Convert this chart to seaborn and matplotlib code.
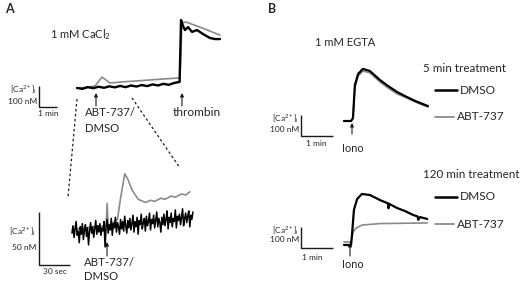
import numpy as np
import pandas as pd
import matplotlib
matplotlib.use('Agg')
import matplotlib.pyplot as plt
import seaborn as sns

# ---- data (time, [Ca2+]i in nM) ----
# A, top: 1 mM CaCl2, time in min
a_black_t = [0, 0.3, 0.6, 0.9, 1.2, 1.5, 1.8, 2.1, 2.4, 2.7, 3.0, 3.3, 3.6, 3.9, 4.2, 4.5, 4.8, 5.1, 5.4, 5.7,
             5.78, 5.89, 6.0, 6.17, 6.39, 6.67, 7.0, 7.39, 7.67, 7.94]
a_black_ca = [100, 96, 104, 99, 106, 101, 108, 103, 110, 104, 112, 107, 114, 109, 117, 112, 120, 115, 124, 129,
              424, 395, 376, 390, 367, 376, 357, 338, 333, 333]
a_grey_t = [0, 0.5, 1.0, 1.39, 1.83, 2.5, 3.2, 4.0, 4.8, 5.72, 5.83, 6.05, 6.67, 7.1, 7.5, 7.94]
a_grey_ca = [100, 103, 110, 152, 124, 129, 133, 138, 143, 148, 410, 414, 395, 381, 367, 352]

# A, inset: zoom around ABT-737 / DMSO addition, 1 s samples
inset_black = [97, 104, 93, 101, 108, 95, 99, 88, 103, 96, 106, 91, 100, 105, 94, 102, 86, 99, 107, 97,
               103, 93, 101, 109, 96, 104, 98, 106, 95, 102,
               99, 108, 84, 103, 110, 97, 105, 100, 111, 95, 106, 102, 112, 98, 107, 103, 96, 110, 101, 108,
               99, 113, 104, 97, 109, 102, 111, 100, 106, 114,
               98, 108, 103, 112, 96, 109, 105, 115, 101, 107, 111, 99, 113, 104, 108, 116, 100, 110, 106, 114,
               102, 109, 117, 103, 111, 107, 98, 112, 105, 115,
               104, 110, 118, 101, 112, 107, 116, 103, 111, 108, 119, 102, 113, 109, 115, 105, 112, 120, 104, 111,
               116, 107, 113, 118, 103, 114, 110, 117]
inset_t = np.arange(len(inset_black))
inset_grey_t = [0, 20, 33, 34, 35, 44, 47, 51, 54, 58, 64, 71, 76, 80, 86, 90, 96, 100, 106, 110, 114]
inset_grey = [100, 103, 104, 125, 104, 110, 130, 153, 148, 138, 129, 126, 128, 127, 130, 129, 132, 131, 134, 133, 136]

# B, 1 mM EGTA, time in min (Iono at ~0.25 min)
b5_t = [0, 0.22, 0.28, 0.34, 0.44, 0.59, 0.81, 1.125, 1.375, 1.66, 1.9, 2.16, 2.375, 2.625]
b5_dmso = [100, 100, 114, 271, 324, 348, 338, 295, 267, 238, 219, 200, 186, 171]
b5_abt = [100, 100, 112, 257, 314, 338, 329, 286, 257, 229, 214, 195, 181, 167]

b120_t = [0, 0.22, 0.25, 0.31, 0.41, 0.56, 0.81, 1.125, 1.375, 1.39, 1.41, 1.66, 1.9, 2.16, 2.3, 2.32, 2.375, 2.6]
b120_dmso = [100, 100, 148, 267, 319, 343, 338, 314, 298, 275, 296, 276, 262, 243, 236, 220, 233, 224]
b120_abt_t = [0, 0.22, 0.28, 0.38, 0.56, 1.125, 2.6]
b120_abt = [114, 114, 162, 181, 195, 202, 205]

BLACK = '#000000'
GREY = '#8a8a8a'

sns.set_theme(style='white')
plt.rcParams['font.family'] = ['Lato', 'DejaVu Sans']
plt.rcParams['mathtext.fontset'] = 'custom'
plt.rcParams['mathtext.rm'] = 'Lato'
plt.rcParams['mathtext.it'] = 'Lato:italic'

W, H = 520, 283
fig = plt.figure(figsize=(5.2, 2.83), dpi=100)

# overlay axes in pixel coordinates for labels / arrows
ov = fig.add_axes([0, 0, 1, 1])
ov.set_xlim(0, W)
ov.set_ylim(H, 0)
ov.axis('off')


def trace_ax(box, x0, y0, sx, sy, base):
    left, top, right, bottom = box
    ax = fig.add_axes([left / W, 1 - bottom / H, (right - left) / W, (bottom - top) / H])
    ax.set_xlim((left - x0) / sx, (right - x0) / sx)
    ax.set_ylim(base + (y0 - bottom) / sy, base + (y0 - top) / sy)
    ax.axis('off')
    return ax


def scalebar(ax, t, c, dt, dc):
    ax.plot([t, t, t + dt], [c + dc, c, c], color='k', lw=1.0, clip_on=False,
            solid_capstyle='butt', solid_joinstyle='miter')


def arrow(x, y0, y1):
    ov.annotate('', xy=(x, y1), xytext=(x, y0),
                arrowprops=dict(arrowstyle='-|>', lw=0.8, color='k', mutation_scale=5,
                                shrinkA=0, shrinkB=0))


def line(ax, t, v, color, lw):
    sns.lineplot(x=t, y=v, ax=ax, color=color, lw=lw, sort=False, estimator=None)


CA = '[Ca$^{2+}$]$_\\mathregular{i}$'

# ---- panel A top ----
axA = trace_ax((60, 10, 225, 110), 77, 88, 18, 0.21, 100)
line(axA, a_grey_t, a_grey_ca, GREY, 1.2)
line(axA, a_black_t, a_black_ca, BLACK, 1.7)
scalebar(axA, -2.11, 9.5, 1, 100)

# ---- panel A inset ----
axI = trace_ax((60, 160, 200, 270), 72, 230, 31 / 30, 1.06, 100)
line(axI, inset_grey_t, inset_grey, GREY, 1.2)
line(axI, inset_t, inset_black, BLACK, 1.1)
scalebar(axI, -32, 67, 30, 50)

# ---- panel B top / bottom ----
axB1 = trace_ax((330, 60, 440, 140), 344, 121, 32, 0.21, 100)
line(axB1, b5_t, b5_abt, GREY, 1.2)
line(axB1, b5_t, b5_dmso, BLACK, 1.6)
scalebar(axB1, -1.34, 28.6, 1, 100)

axB2 = trace_ax((330, 185, 440, 255), 344, 245, 32, 0.21, 100)
line(axB2, b120_abt_t, b120_abt, GREY, 1.2)
line(axB2, b120_t, b120_dmso, BLACK, 1.6)
scalebar(axB2, -1.34, 85.7, 1, 100)

# ---- text / annotations ----
ov.text(5, 9, 'A', fontsize=9, fontweight='bold', va='center')
ov.text(268, 9, 'B', fontsize=9, fontweight='bold', va='center')
ov.text(50, 35, '1 mM CaCl$_2$', fontsize=8, va='center')

small = 6
ov.text(37, 90, CA, fontsize=small, ha='right', va='center')
ov.text(37, 101, '100 nM', fontsize=small, ha='right', va='center')
ov.text(48, 114, '1 min', fontsize=small, ha='center', va='center')
arrow(96, 106, 93)
arrow(182, 106, 93)
ov.text(85, 112, 'ABT-737/', fontsize=8.2, va='center')
ov.text(85, 128, 'DMSO', fontsize=8.2, va='center')
ov.text(197, 112, 'thrombin', fontsize=8.6, ha='center', va='center')

ov.plot([77, 68], [99, 197], color='k', lw=0.9, ls=(0, (2, 2)))
ov.plot([132, 180], [98, 168], color='k', lw=0.9, ls=(0, (2, 2)))

ov.text(36, 232, CA, fontsize=small, ha='right', va='center')
ov.text(36, 247, '50 nM', fontsize=small, ha='right', va='center')
ov.text(55, 272, '30 sec', fontsize=small, ha='center', va='center')
arrow(107, 256, 242)
ov.text(84, 263, 'ABT-737/', fontsize=8.2, va='center')
ov.text(84, 277, 'DMSO', fontsize=8.2, va='center')

ov.text(315, 42, '1 mM EGTA', fontsize=8, va='center')
for top, title in [(0, '5 min treatment'), (107, '120 min treatment')]:
    ov.text(423, 68 + top, title, fontsize=8.4, va='center')
    ov.plot([435, 457], [90 + top, 90 + top], color=BLACK, lw=1.8)
    ov.plot([435, 454], [117 + top, 117 + top], color=GREY, lw=1.3)
    ov.text(460, 90 + top, 'DMSO', fontsize=8.6, va='center')
    ov.text(457, 117 + top, 'ABT-737', fontsize=8.6, va='center')

ov.text(299, 119, CA, fontsize=small, ha='right', va='center')
ov.text(299, 129, '100 nM', fontsize=small, ha='right', va='center')
ov.text(316, 143, '1 min', fontsize=small, ha='center', va='center')
arrow(352, 134, 123)
ov.text(353, 149, 'Iono', fontsize=7.8, ha='center', va='center')

ov.text(299, 231, CA, fontsize=small, ha='right', va='center')
ov.text(299, 240, '100 nM', fontsize=small, ha='right', va='center')
ov.text(312, 257, '1 min', fontsize=small, ha='center', va='center')
arrow(350, 256, 243)
ov.text(353, 264, 'Iono', fontsize=7.8, ha='center', va='center')

fig.savefig('out.png', dpi=100)
